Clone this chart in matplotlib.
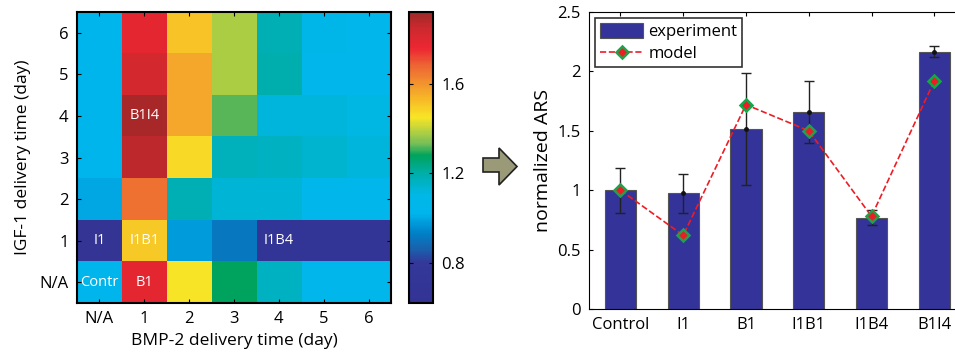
import numpy as np
import matplotlib.pyplot as plt
from matplotlib.colors import LinearSegmentedColormap
from matplotlib.patches import Polygon

plt.rcParams['font.family'] = ['Open Sans', 'DejaVu Sans']

# -------------------------------
# data
# -------------------------------
day_labels = ['N/A', '1', '2', '3', '4', '5', '6']

# rows: IGF-1 day (N/A, 1..6), columns: BMP-2 day (N/A, 1..6)
ars_grid = [
    [1.05, 1.78, 1.45, 1.28, 1.16, 1.06, 1.06],
    [0.66, 1.50, 0.98, 0.91, 0.72, 0.72, 0.72],
    [1.00, 1.66, 1.18, 1.13, 1.13, 1.06, 1.06],
    [1.05, 1.87, 1.47, 1.17, 1.16, 1.14, 1.12],
    [1.05, 1.90, 1.56, 1.32, 1.12, 1.12, 1.11],
    [1.05, 1.83, 1.56, 1.38, 1.19, 1.06, 1.06],
    [1.05, 1.78, 1.51, 1.38, 1.18, 1.08, 1.06],
]

# labelled cells: (bmp column, igf row, text)
cell_labels = [(0, 0, 'Contr'), (1, 0, 'B1'), (0, 1, 'I1'),
               (1, 1, 'I1B1'), (4, 1, 'I1B4'), (1, 4, 'B1I4')]

groups = ['Control', 'I1', 'B1', 'I1B1', 'I1B4', 'B1I4']
experiment = [1.0, 0.975, 1.515, 1.655, 0.77, 2.165]
exp_err = [0.19, 0.165, 0.47, 0.26, 0.06, 0.045]
model = [1.0, 0.62, 1.72, 1.50, 0.78, 1.92]

# colormap
vmin, vmax = 0.62, 1.92
stops = [
    (0.62, (0.20, 0.20, 0.58)),
    (0.80, (0.20, 0.22, 0.60)),
    (0.86, (0.10, 0.38, 0.68)),
    (0.93, (0.00, 0.50, 0.78)),
    (1.02, (0.00, 0.71, 0.93)),
    (1.10, (0.00, 0.72, 0.91)),
    (1.20, (0.00, 0.68, 0.66)),
    (1.28, (0.00, 0.64, 0.36)),
    (1.33, (0.45, 0.74, 0.35)),
    (1.39, (0.72, 0.82, 0.25)),
    (1.45, (0.97, 0.90, 0.15)),
    (1.52, (0.97, 0.75, 0.15)),
    (1.60, (0.95, 0.58, 0.18)),
    (1.68, (0.93, 0.40, 0.20)),
    (1.76, (0.93, 0.15, 0.20)),
    (1.85, (0.80, 0.16, 0.18)),
    (1.92, (0.62, 0.16, 0.16)),
]
cmap = LinearSegmentedColormap.from_list(
    'ars', [((v - vmin) / (vmax - vmin), c) for v, c in stops])

# -------------------------------
# figure
# -------------------------------
fig = plt.figure(figsize=(9.55, 3.58), dpi=100)

ax = fig.add_axes([0.0806, 0.1536, 0.3288, 0.8129])
cax = fig.add_axes([0.4283, 0.1536, 0.0251, 0.8129])
bx = fig.add_axes([0.6168, 0.1369, 0.3832, 0.8296])

# heatmap
im = ax.imshow(np.array(ars_grid), cmap=cmap, vmin=vmin, vmax=vmax,
               origin='lower', aspect='auto', interpolation='nearest')
for cx, cy, txt in cell_labels:
    ax.text(cx, cy, txt, color='white', fontsize=10.5, ha='center', va='center')
ax.set_xticks(range(len(day_labels)))
ax.set_xticklabels(day_labels)
ax.set_yticks(range(len(day_labels)))
ax.set_yticklabels(day_labels)
ax.tick_params(direction='in', top=True, right=True, length=3, labelsize=12, pad=6)
ax.set_xlabel('BMP-2 delivery time (day)', fontsize=12.5, labelpad=4)
ax.set_ylabel('IGF-1 delivery time (day)', fontsize=12.5, labelpad=6)
for s in ax.spines.values():
    s.set_linewidth(1.5)

cb = fig.colorbar(im, cax=cax, ticks=[0.8, 1.2, 1.6])
cb.ax.set_yticklabels(['0.8', '1.2', '1.6'])
cax.tick_params(direction='in', left=True, right=True, length=3, labelsize=12, pad=6)
cb.outline.set_linewidth(1.5)

# arrow between panels
arrow_px = [(483, 158), (499, 158), (499, 148), (517, 166.5),
            (499, 185), (499, 172), (483, 172)]
fig.patches.append(Polygon([(x / 955, 1 - y / 358) for x, y in arrow_px], closed=True,
                           transform=fig.transFigure, facecolor='#9a9a78',
                           edgecolor='#222222', linewidth=1.2))

# bar chart
pos = np.arange(1, len(groups) + 1)
bars = bx.bar(pos, experiment, width=0.5, color='#333399', edgecolor='#555555',
              linewidth=0.8, zorder=2)
bx.errorbar(pos, experiment, yerr=exp_err, fmt='.', color='#111111', ms=5,
            ecolor='#222222', elinewidth=1, capsize=3.5, zorder=3)
line, = bx.plot(pos, model, '--', color='#ee1c24', lw=1.2, marker='D', ms=6,
                mfc='#ee1c24', mec='#19a54a', mew=1.8, zorder=4)
bx.set_xlim(0.5, 6.33)
bx.set_ylim(0, 2.5)
bx.set_xticks(pos)
bx.set_xticklabels(groups)
bx.set_yticks([0, 0.5, 1, 1.5, 2, 2.5])
bx.set_yticklabels(['0', '0.5', '1', '1.5', '2', '2.5'])
bx.tick_params(direction='in', top=True, length=3, labelsize=12, pad=6)
bx.set_ylabel('normalized ARS', fontsize=14, labelpad=4)
bx.spines['right'].set_visible(False)
leg = bx.legend([bars, line], ['experiment', 'model'], loc='upper left',
                fontsize=12, frameon=True, fancybox=False, edgecolor='black',
                handlelength=2.6, handleheight=1.0, borderaxespad=0.35,
                borderpad=0.3, labelspacing=0.3, handletextpad=0.3)
leg.get_frame().set_linewidth(1.2)
leg.set_zorder(10)

fig.savefig('out.png', dpi=100)
